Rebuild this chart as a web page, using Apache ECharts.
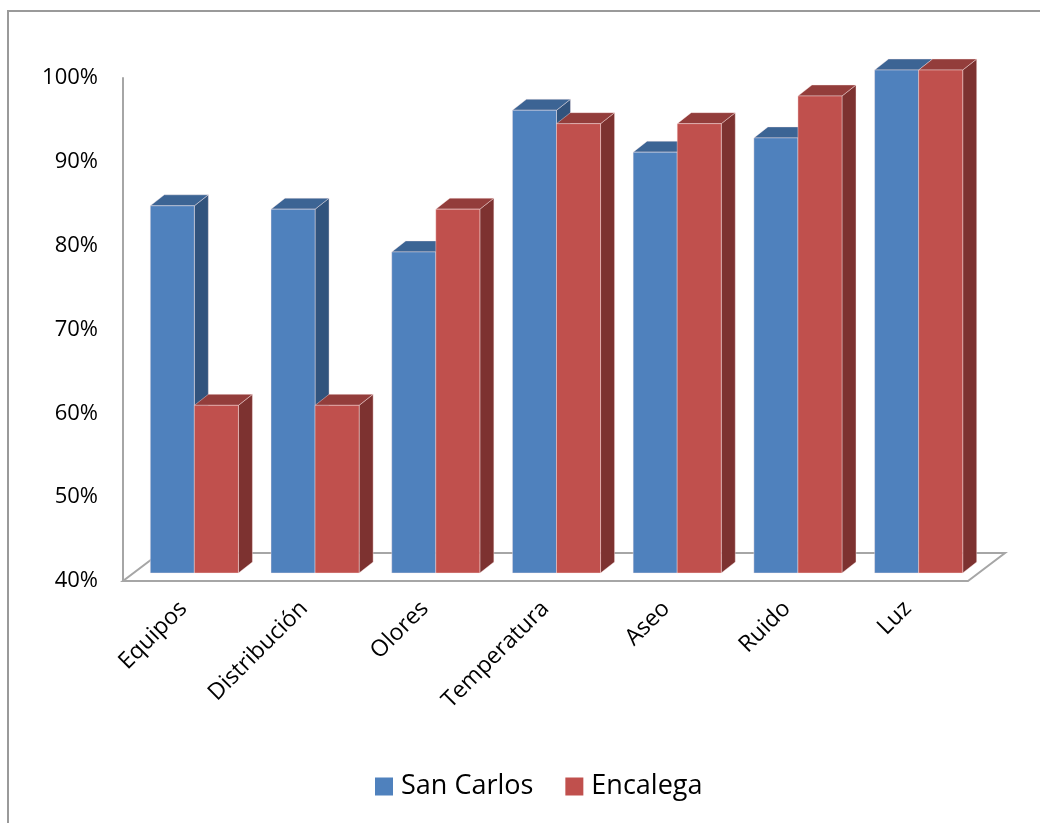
<!DOCTYPE html>
<html>
<head>
<meta charset="utf-8">
<script src="https://cdn.jsdelivr.net/npm/echarts@6/dist/echarts.min.js"></script>
<style>
  html, body { margin: 0; padding: 0; background: #fff; }
  #chart { width: 1040px; height: 823px; }
</style>
</head>
<body>
<div id="chart"></div>
<script>
const categories = ['Equipos', 'Distribución', 'Olores', 'Temperatura', 'Aseo', 'Ruido', 'Luz']
const sanCarlos = [83.8, 83.4, 78.3, 95.2, 90.2, 91.9, 100]
const encalega = [60, 60, 83.4, 93.6, 93.6, 96.9, 100]
const yTicks = [40, 50, 60, 70, 80, 90, 100]

const yMin = 40
// where the bars stand inside the floor depth, and how deep they are
const shiftX = 11
const shiftY = -8
const depthX = 14
const depthY = -11

function barRender(slot, front, top, side) {
  return function (params, api) {
    const i = api.value(0)
    const v = api.value(1)
    const base = api.coord([i, yMin])
    const peak = api.coord([i, v])
    const w = api.size([1, 0])[0] * 0.365
    const x0 = base[0] + shiftX - w + slot * w
    const x1 = x0 + w
    const yb = base[1] + shiftY
    const yt = peak[1] + shiftY
    const edge = { stroke: 'rgba(255,235,235,0.4)', lineWidth: 1 }
    return {
      type: 'group',
      children: [
        {
          type: 'polygon',
          shape: { points: [[x1, yb], [x1 + depthX, yb + depthY], [x1 + depthX, yt + depthY], [x1, yt]] },
          style: Object.assign({ fill: side }, edge)
        },
        {
          type: 'polygon',
          shape: { points: [[x0, yt], [x1, yt], [x1 + depthX, yt + depthY], [x0 + depthX, yt + depthY]] },
          style: Object.assign({ fill: top }, edge)
        },
        {
          type: 'rect',
          shape: { x: x0, y: yt, width: w, height: yb - yt },
          style: Object.assign({ fill: front }, edge)
        }
      ]
    }
  }
}

function floorRender(params, api) {
  const cs = params.coordSys
  const yf = cs.y + cs.height
  const dx = 37
  const dy = -28
  return {
    type: 'polygon',
    shape: { points: [[cs.x, yf], [cs.x + cs.width, yf], [cs.x + cs.width + dx, yf + dy], [cs.x + dx, yf + dy]] },
    style: { fill: 'none', stroke: '#a6a6a6', lineWidth: 2 }
  }
}

const chart = echarts.init(document.getElementById('chart'))
chart.setOption({
  animation: false,
  textStyle: { fontFamily: 'Open Sans' },
  graphic: [{
    type: 'rect',
    shape: { x: 8, y: 11, width: 1100, height: 900 },
    style: { fill: 'none', stroke: '#9a9a9a', lineWidth: 2 },
    silent: true
  }],
  grid: { left: 123, right: 72, top: 78, bottom: 242 },
  legend: {
    bottom: 18,
    left: 370,
    icon: 'rect',
    itemWidth: 18,
    itemHeight: 18,
    itemGap: 32,
    textStyle: { fontSize: 27, color: '#000', padding: [0, 0, 0, 3] },
    data: ['San Carlos', 'Encalega']
  },
  xAxis: {
    type: 'category',
    data: categories,
    axisLine: { show: false },
    axisTick: { show: false },
    axisLabel: { rotate: 45, margin: 24, fontSize: 23, color: '#000' }
  },
  yAxis: {
    type: 'value',
    min: yTicks[0],
    max: yTicks[yTicks.length - 1],
    interval: 10,
    axisLine: { show: true, lineStyle: { color: '#a6a6a6', width: 2 } },
    axisTick: { show: false },
    splitLine: { show: false },
    axisLabel: { margin: 25, fontSize: 22, color: '#000', formatter: '{value}%' }
  },
  series: [
    {
      name: 'floor',
      type: 'custom',
      z: 1,
      silent: true,
      renderItem: floorRender,
      data: [[0, yMin]]
    },
    {
      name: 'San Carlos',
      type: 'custom',
      z: 3,
      itemStyle: { color: '#4f81bd' },
      renderItem: barRender(0, '#4f81bd', '#3c6494', '#31537d'),
      encode: { x: 0, y: 1 },
      data: sanCarlos.map((v, i) => [i, v])
    },
    {
      name: 'Encalega',
      type: 'custom',
      z: 4,
      itemStyle: { color: '#c0504d' },
      renderItem: barRender(1, '#c0504d', '#933d3b', '#7d3230'),
      encode: { x: 0, y: 1 },
      data: encalega.map((v, i) => [i, v])
    }
  ]
})
</script>
</body>
</html>
